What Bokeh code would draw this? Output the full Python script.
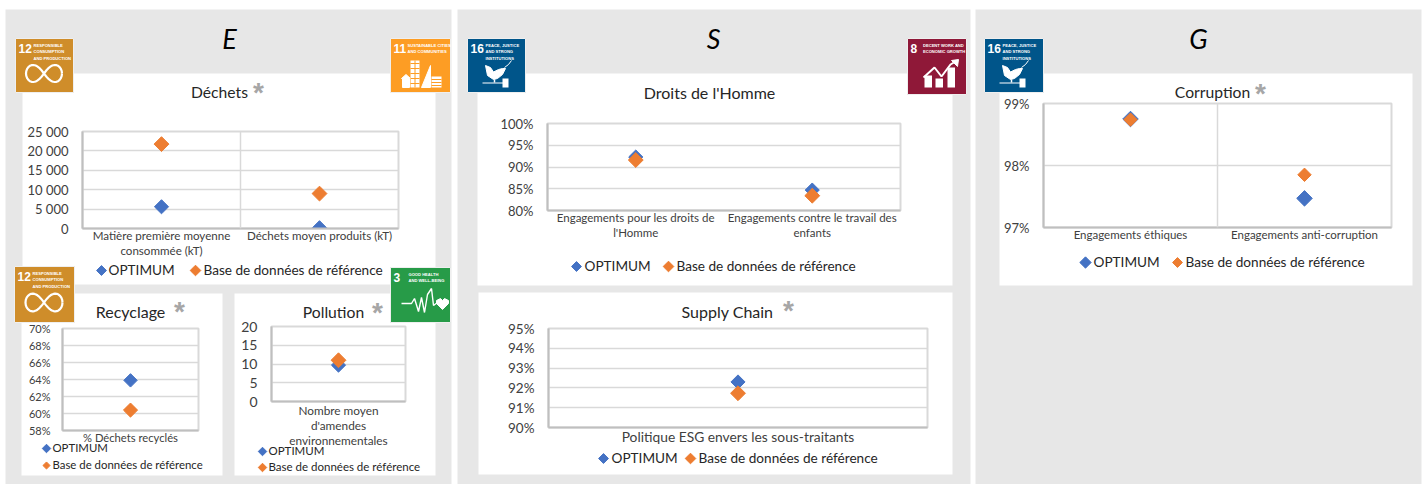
import math
from bokeh.plotting import figure
from bokeh.models import Range1d, FactorRange, FixedTicker, Span
from bokeh.core.properties import value
from bokeh.embed import file_html
from bokeh.resources import INLINE

# ---------- data ----------
SERIES = ["OPTIMUM", "Base de données de référence"]

dechets_cats = ["Matière première moyenne\nconsommée (kT)", "Déchets moyen produits (kT)"]
dechets_opt = [5600, 200]
dechets_ref = [21750, 9000]
dechets_ticks = [0, 5000, 10000, 15000, 20000, 25000]
dechets_labels = ["0", "5 000", "10 000", "15 000", "20 000", "25 000"]

recyclage_cats = ["% Déchets recyclés"]
recyclage_opt = [63.9]
recyclage_ref = [60.4]
recyclage_ticks = [58, 60, 62, 64, 66, 68, 70]
recyclage_labels = ["58%", "60%", "62%", "64%", "66%", "68%", "70%"]

pollution_cats = ["Nombre moyen\nd'amendes\nenvironnementales"]
pollution_opt = [9.7]
pollution_ref = [11.0]
pollution_ticks = [0, 5, 10, 15, 20]
pollution_labels = ["0", "5", "10", "15", "20"]

droits_cats = ["Engagements pour les droits de\nl'Homme", "Engagements contre le travail des\nenfants"]
droits_opt = [92.3, 84.7]
droits_ref = [91.6, 83.4]
droits_ticks = [80, 85, 90, 95, 100]
droits_labels = ["80%", "85%", "90%", "95%", "100%"]

supply_cats = ["Politique ESG envers les sous-traitants"]
supply_opt = [92.3]
supply_ref = [91.73]
supply_ticks = [90, 91, 92, 93, 94, 95]
supply_labels = ["90%", "91%", "92%", "93%", "94%", "95%"]

corruption_cats = ["Engagements éthiques", "Engagements anti-corruption"]
corruption_opt = [98.75, 97.47]
corruption_ref = [98.74, 97.85]
corruption_ticks = [97, 98, 99]
corruption_labels = ["97%", "98%", "99%"]

# ---------- styles ----------
W, H = 1426, 484
GRAY = "#E7E7E7"
BLUE = "#4472C4"
ORANGE = "#ED7D31"
TXT = "#404040"
FONT = "Lato"
ICONF = "Liberation Sans"

bg = figure(width=W, height=H, x_range=Range1d(0, W), y_range=Range1d(H, 0),
            output_backend="svg", toolbar_location=None,
            min_border=0, min_border_left=0, min_border_right=0, min_border_top=0, min_border_bottom=0,
            background_fill_color="white", border_fill_color="white", outline_line_color=None,
            x_axis_type=None, y_axis_type=None, styles={"position": "absolute", "left": "0px", "top": "0px"})
bg.grid.visible = False


def box(x0, y0, x1, y1, color, line=None):
    bg.quad(left=[x0], right=[x1], top=[y0], bottom=[y1], fill_color=color,
            line_color=line, line_width=1 if line else 0)


def txt(x, y, s, size, color="#262626", style="normal", font=FONT, align="center", base="middle"):
    bg.text(x=[x], y=[y], text=[s], text_font=value(font), text_font_size=f"{size}px",
            text_font_style=style, text_color=color, text_align=align, text_baseline=base)


# panels and cards
for x0, x1 in [(5, 451), (457, 970), (975, 1421)]:
    box(x0, 9, x1, H, GRAY)
for c in [(22, 73, 435, 284), (21, 293, 222, 475), (234, 293, 435, 475),
          (477, 73, 952, 285), (478, 292, 952, 474), (999, 73, 1412, 285)]:
    box(*c, "white")

txt(229, 38, "E", 27, "black", "italic")
txt(713, 38, "S", 27, "black", "italic")
txt(1198, 38, "G", 27, "black", "italic")


# ---------- SDG icons ----------
def icon_base(x0, y0, x1, y1, color, num, lines, tx=18):
    box(x0, y0, x1, y1, color, "#EFEFEF")
    txt(x0 + 3, y0 + 10, num, 12, "white", "bold", ICONF, "left")
    for i, s in enumerate(lines):
        txt(x0 + tx, y0 + 7 + i * 6.3, s, 4.1, "white", "bold", ICONF, "left")


def infinity(cx, cy, a, b):
    ts = [i * 2 * math.pi / 60 for i in range(61)]
    xs = [cx + a * math.cos(t) / (1 + math.sin(t) ** 2) for t in ts]
    ys = [cy + b * 2 * math.sin(t) * math.cos(t) / (1 + math.sin(t) ** 2) for t in ts]
    bg.line(xs, ys, line_color="white", line_width=2.2)


def dove(x0, y0):
    xs = [18, 23, 26, 31, 35, 38, 35, 30, 26, 20]
    ys = [27, 29, 33.5, 31, 30, 30, 36, 40, 41, 37]
    bg.patch([x0 + v for v in xs], [y0 + v for v in ys], color="white")
    bg.line([x0 + 37, x0 + 41, x0 + 44], [y0 + 29, y0 + 26, y0 + 22], line_color="white", line_width=1)
    bg.line([x0 + 15, x0 + 36], [y0 + 44.5, y0 + 44.5], line_color="white", line_width=1.2)
    bg.line([x0 + 27, x0 + 27], [y0 + 41, y0 + 44], line_color="white", line_width=1.5)
    box(x0 + 35, y0 + 40, x0 + 41, y0 + 49, "white")


icon_base(15, 38, 73, 92, "#CF8D2A", "12", ["RESPONSIBLE", "CONSUMPTION", "AND PRODUCTION"])
infinity(43.5, 73, 18, 12)

icon_base(390, 38, 450, 92, "#FD9D24", "11", ["SUSTAINABLE CITIES", "AND COMMUNITIES"], 17)
box(410, 60, 419, 87, "white")
box(431, 76, 441, 87, "white")
bg.patch([421, 430, 430, 421], [87, 65, 87, 87], color="white")
bg.patch([401, 405.5, 410, 409, 409, 402, 402], [78, 74, 78, 78, 87, 87, 78], color="white")
for yy in range(63, 86, 5):
    bg.line([410, 419], [yy, yy], line_color="#FD9D24", line_width=1)
for yy in range(79, 87, 3):
    bg.line([431, 441], [yy, yy], line_color="#FD9D24", line_width=1)
bg.line([414.5, 414.5], [60, 87], line_color="#FD9D24", line_width=1)

icon_base(14, 266, 74, 322, "#CF8D2A", "12", ["RESPONSIBLE", "CONSUMPTION", "AND PRODUCTION"])
infinity(43.5, 302, 18.5, 12.5)

icon_base(390, 267, 450, 322, "#279B48", "3", ["GOOD HEALTH", "AND WELL-BEING"], 18)
bg.line([401, 411, 414, 418, 421, 424, 427, 431, 433, 437],
        [303, 303, 298, 311, 297, 312, 294, 288, 305, 302], line_color="white", line_width=1.4)
bg.patch([436, 440, 442, 444, 448, 448, 442, 436], [300, 298, 300, 298, 300, 303, 309, 303], color="white")

icon_base(467, 38, 525, 92, "#00558A", "16", ["PEACE, JUSTICE", "AND STRONG", "INSTITUTIONS"], 18)
dove(467, 38)

icon_base(907, 38, 966, 94, "#8F1838", "8", ["DECENT WORK AND", "ECONOMIC GROWTH"], 15.5)
for bx, top in [(924, 75), (935, 78), (947, 67)]:
    box(bx, top, bx + 7.5, 87, "white")
bg.line([923, 934, 941, 950, 955], [77, 67, 76, 64, 61], line_color="white", line_width=2)
bg.patch([951, 958, 957], [60, 59, 66], color="white")

icon_base(984, 38, 1043, 92, "#00558A", "16", ["PEACE, JUSTICE", "AND STRONG", "INSTITUTIONS"], 18)
dove(984, 38)


# ---------- charts ----------
def legend(pts, size, msizes):
    """pts: (marker x, marker y, text x) for each series."""
    for (mx, my, tx), name, col, ms in zip(pts, SERIES, (BLUE, ORANGE), msizes):
        bg.scatter([mx], [my], marker="square", angle=math.pi / 4, size=ms, color=col)
        txt(tx, my - 1, name, size, "#262626", align="left")


def chart(card, frame, title, title_xy, title_size, star_xy, cats, opt, ref, ticks, labels, y_rng,
          tick_size, cat_size, leg, legend_size, vgrid=False, sizes=(10, 10.5), msizes=(7, 7.5),
          cat_standoff=0, y_standoff=14, cat_line_height=1.2):
    cx0, cy0, cx1, cy1 = card
    cx0 -= 20  # transparent margin so that the axis labels never push the frame
    fx0, fy0, fx1, fy1 = frame
    txt(title_xy[0], title_xy[1] - 1.5, title, title_size)
    if star_xy:
        txt(*star_xy, "*", 28, "#A6A6A6", "bold", "Liberation Sans")
    legend(leg, legend_size, msizes)
    p = figure(width=cx1 - cx0, height=cy1 - cy0, x_range=FactorRange(*cats, range_padding=0, factor_padding=0),
               y_range=Range1d(*y_rng), output_backend="svg", toolbar_location=None,
               min_border_left=fx0 - cx0, min_border_right=cx1 - fx1,
               min_border_top=fy0 - cy0, min_border_bottom=cy1 - fy1,
               background_fill_alpha=0, border_fill_alpha=0, outline_line_color="#D9D9D9", outline_line_width=2,
               styles={"position": "absolute", "left": f"{cx0}px", "top": f"{cy0}px"})
    p.xgrid.visible = False
    p.ygrid.ticker = FixedTicker(ticks=ticks)
    p.ygrid.grid_line_color = "#D9D9D9"
    p.ygrid.grid_line_width = 1.5
    if vgrid:
        p.add_layout(Span(location=1, dimension="height", line_color="#D9D9D9", line_width=1.5))
    p.yaxis.ticker = FixedTicker(ticks=ticks)
    p.yaxis.major_label_overrides = dict(zip(ticks, labels))
    for ax, sz in ((p.xaxis[0], cat_size), (p.yaxis[0], tick_size)):
        ax.axis_line_color = "#BFBFBF"
        ax.axis_line_width = 2
        ax.major_tick_line_color = None
        ax.minor_tick_line_color = None
        ax.major_tick_out = 0
        ax.major_tick_in = 0
        ax.major_label_text_font = FONT
        ax.major_label_text_color = TXT
        ax.major_label_text_font_size = f"{sz}px"
    p.xaxis.major_label_text_line_height = cat_line_height
    p.yaxis.major_label_standoff = y_standoff
    p.xaxis.major_label_standoff = cat_standoff
    p.scatter(cats, opt, marker="square", angle=math.pi / 4, size=sizes[0], color=BLUE)
    p.scatter(cats, ref, marker="square", angle=math.pi / 4, size=sizes[1], color=ORANGE)
    return p


charts = [
    chart((22, 73, 435, 284), (82, 131, 398, 228), "Déchets", (219, 93), 15.7, (258, 92),
          dechets_cats, dechets_opt, dechets_ref, dechets_ticks, dechets_labels, (0, 25000),
          13, 11.6, [(101, 270, 108), (195, 270, 203)], 13.6, vgrid=True),
    chart((21, 293, 222, 475), (62, 328, 198, 430), "Recyclage", (130, 312), 16, (179, 311),
          recyclage_cats, recyclage_opt, recyclage_ref, recyclage_ticks, recyclage_labels, (58, 70),
          11, 11.2, [(46, 448, 52), (46, 465, 52)], 11.4, sizes=(9.5, 10), msizes=(6, 5), y_standoff=12),
    chart((234, 293, 435, 475), (271, 326, 405, 401), "Pollution", (333, 313), 15.7, (377, 312),
          pollution_cats, pollution_opt, pollution_ref, pollution_ticks, pollution_labels, (0, 20),
          14, 11.8, [(262, 451, 268), (262, 467, 268)], 11.5, msizes=(6, 6), cat_standoff=1, cat_line_height=1.0),
    chart((477, 73, 952, 285), (547, 123, 900, 210), "Droits de l'Homme", (709, 93), 16, None,
          droits_cats, droits_opt, droits_ref, droits_ticks, droits_labels, (80, 100),
          13, 11.5, [(576, 266, 584), (668, 266, 676)], 13.6),
    chart((478, 292, 952, 474), (548, 328, 927, 427), "Supply Chain", (727, 312), 16, (788, 310),
          supply_cats, supply_opt, supply_ref, supply_ticks, supply_labels, (90, 95),
          13.5, 13.8, [(603, 458, 611), (690, 458, 698)], 13.6),
    chart((999, 73, 1412, 285), (1043, 103, 1391, 227), "Corruption", (1212, 93), 15.7, (1260, 93),
          corruption_cats, corruption_opt, corruption_ref, corruption_ticks, corruption_labels, (97, 99),
          13, 11.5, [(1085, 262, 1093), (1177, 262, 1185)], 13.6, vgrid=True, sizes=(11, 9.5), msizes=(8, 7)),
]

open("out.html", "w").write(file_html([bg] + charts, INLINE))
